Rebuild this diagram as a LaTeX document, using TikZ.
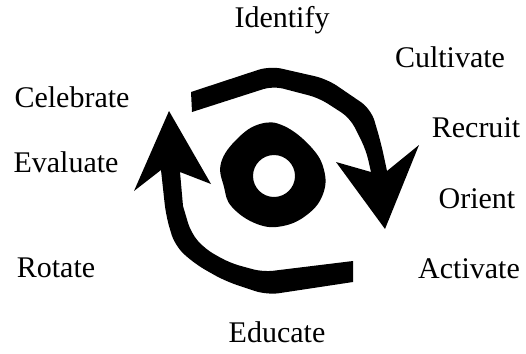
\documentclass[tikz,border=0pt]{standalone}
\usepackage{fontspec}
\setmainfont{Liberation Serif}
\begin{document}
\begin{tikzpicture}[x=1pt,y=-1pt,
  blk/.style={fill=black,draw=none},
  lbl/.style={anchor=base,inner sep=0pt,font=\fontsize{30}{36}\selectfont}]
\useasboundingbox (0,0) rectangle (526,353);
% labels
\node[lbl] (identify) at (282,28) {Identify};
\node[lbl] (cultivate) at (450,67) {Cultivate};
\node[lbl] (celebrate) at (72,107) {Celebrate};
\node[lbl] (recruit) at (476,137) {Recruit};
\node[lbl] (evaluate) at (66,172) {Evaluate};
\node[lbl] (orient) at (477,208) {Orient};
\node[lbl] (rotate) at (56,277) {Rotate};
\node[lbl] (activate) at (469,278) {Activate};
\node[lbl] (educate) at (277,342) {Educate};
% top arrow
\fill[blk] (191,92) [rounded corners=12] -- (270,66) -- (327,79) -- (371,109) -- (381,143) [sharp corners] -- (387,171)
  -- (419,145) -- (385,229) -- (336,162) -- (371,172) [rounded corners=10] -- (366,150) -- (350,118)
  -- (319,98) -- (273,86) [sharp corners] -- (192,112) -- cycle;
% bottom arrow
\fill[blk] (353,261) [rounded corners=10] -- (263,272) -- (230,263) -- (205,249) -- (191,233) [sharp corners] -- (183,206)
  -- (180,172) -- (211,184) -- (169,111) -- (134,191) -- (161,170) [rounded corners=12] -- (166,216)
  -- (175,246) -- (195,264) -- (225,281) -- (267,295) [sharp corners] -- (353,282) -- cycle;
% centre ring
\fill[blk,even odd rule] plot[smooth cycle,tension=0.7] coordinates {(221,163) (237,139) (260,124) (284,126) (311,147) (324,170) (323,194) (308,214) (283,226) (257,224) (232,207) (224,187)}
  (274,176) circle[radius=21];
\end{tikzpicture}
\end{document}
